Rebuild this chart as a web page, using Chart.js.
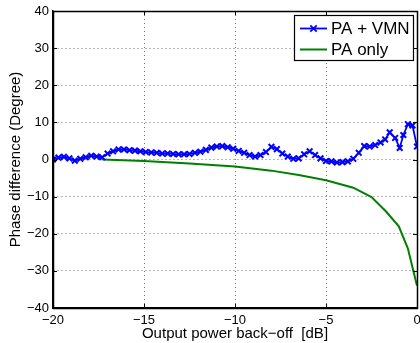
<!DOCTYPE html>
<html><head><meta charset="utf-8">
<script src="https://cdn.jsdelivr.net/npm/chart.js@4"></script>
<style>html,body{margin:0;padding:0;background:#fff}#wrap{width:420px;height:343px}</style>
</head><body><div id="wrap"><canvas id="c" width="420" height="343"></canvas></div>
<script>
const vmnX = [-20.0,-19.7,-19.4,-19.1,-18.8,-18.5,-18.2,-17.9,-17.6,-17.3,-17.0,-16.7,-16.4,-16.1,-15.8,-15.5,-15.2,-14.9,-14.6,-14.3,-14.0,-13.7,-13.4,-13.1,-12.8,-12.5,-12.2,-11.9,-11.6,-11.3,-11.0,-10.7,-10.4,-10.1,-9.8,-9.5,-9.2,-8.9,-8.6,-8.3,-8.0,-7.7,-7.4,-7.1,-6.8,-6.5,-6.2,-5.9,-5.6,-5.3,-5.0,-4.7,-4.4,-4.1,-3.8,-3.5,-3.2,-2.9,-2.6,-2.3,-2.0,-1.75,-1.5,-1.2,-0.95,-0.75,-0.5,-0.25,0.0];
const vmnY = [0.0,0.5,0.7,0.3,-0.3,0.2,0.6,1.0,0.8,0.6,1.6,2.2,2.7,2.7,2.5,2.4,2.2,2.0,1.9,1.8,1.6,1.6,1.5,1.4,1.4,1.5,1.8,2.1,2.6,3.2,3.5,3.6,3.3,2.9,2.3,1.8,1.2,0.8,1.2,2.0,3.4,2.8,1.6,0.8,0.2,0.3,1.4,2.2,1.2,0.3,-0.4,-0.5,-0.8,-0.7,-0.5,0.2,1.8,3.6,3.5,3.9,4.6,5.4,7.3,5.8,3.1,6.6,9.5,9.2,3.5];
const paX = [-17.3,-15,-12.5,-10,-8,-6.5,-5,-3.5,-2.5,-1.7,-1.0,-0.5,0];
const paY = [0,-0.4,-1.1,-1.9,-3.0,-4.2,-5.6,-7.6,-10.1,-14,-18,-24,-34];
const xTicks = [-20,-15,-10,-5,0];
const yTicks = [-40,-30,-20,-10,0,10,20,30,40];
const seriesNames = ['PA + VMN','PA only'];
const xTitle = 'Output power back\u2212off  [dB]';
const yTitle = 'Phase difference (Degree)';

const FONT = '"Liberation Sans", Arial, Helvetica, sans-serif';
const minus = v => String(v).replace('-', '\u2212');

const boxPlugin = {
  id: 'box',
  afterDatasetsDraw(chart) {
    const {ctx, chartArea: a, scales: {x, y}} = chart;
    ctx.save();
    ctx.strokeStyle = '#000';
    ctx.lineWidth = 1;
    ctx.setLineDash([]);
    ctx.beginPath();
    const tl = 4;
    xTicks.forEach(v => {
      const px = Math.round(x.getPixelForValue(v)) + 0.5;
      ctx.moveTo(px, a.bottom); ctx.lineTo(px, a.bottom - tl);
      ctx.moveTo(px, a.top); ctx.lineTo(px, a.top + tl);
    });
    yTicks.forEach(v => {
      const py = Math.round(y.getPixelForValue(v)) + 0.5;
      ctx.moveTo(a.left, py); ctx.lineTo(a.left + tl, py);
      ctx.moveTo(a.right, py); ctx.lineTo(a.right - tl, py);
    });
    ctx.stroke();
    ctx.lineWidth = 1.5;
    ctx.strokeRect(Math.round(a.left) + 0.5, Math.round(a.top) + 0.5, Math.round(a.right - a.left), Math.round(a.bottom - a.top));
    ctx.fillStyle = '#000';
    ctx.font = '13px ' + FONT;
    ctx.textAlign = 'center';
    ctx.textBaseline = 'top';
    xTicks.forEach(v => {
      ctx.fillText(minus(v), x.getPixelForValue(v), a.bottom + 6);
    });
    const bw = 119, bh = 45;
    const bx = a.right - 4 - bw, by = a.top + 4;
    ctx.fillStyle = '#fff';
    ctx.fillRect(bx, by, bw, bh);
    ctx.strokeStyle = '#000';
    ctx.lineWidth = 1.2;
    ctx.strokeRect(bx + 0.5, by + 0.5, bw, bh);
    const ds = chart.data.datasets;
    const rows = [by + 13.5, by + 34.5];
    ds.forEach((d, i) => {
      const ry = rows[i];
      ctx.strokeStyle = d.borderColor;
      ctx.lineWidth = d.borderWidth;
      ctx.beginPath();
      ctx.moveTo(bx + 6, ry); ctx.lineTo(bx + 33, ry);
      ctx.stroke();
      if (d.pointRadius > 0) {
        const cx = bx + 19.5, r = 3.2;
        ctx.lineWidth = 1.8;
        ctx.beginPath();
        ctx.moveTo(cx - r, ry - r); ctx.lineTo(cx + r, ry + r);
        ctx.moveTo(cx - r, ry + r); ctx.lineTo(cx + r, ry - r);
        ctx.stroke();
      }
      ctx.fillStyle = '#000';
      ctx.font = '17px ' + FONT;
      ctx.textBaseline = 'middle';
      ctx.textAlign = 'left';
      ctx.fillText(d.label, bx + 37, ry + 1);
    });
    ctx.restore();
  }
};

new Chart(document.getElementById('c'), {
  type: 'line',
  data: {
    datasets: [
      {
        label: seriesNames[0],
        data: vmnX.map((v, i) => ({x: v, y: vmnY[i]})),
        borderColor: '#0000ff',
        backgroundColor: '#0000ff',
        borderWidth: 1.8,
        pointStyle: 'crossRot',
        pointRadius: 4,
        pointBorderWidth: 2,
        pointBorderColor: '#0000ff',
        tension: 0,
        fill: false
      },
      {
        label: seriesNames[1],
        data: paX.map((v, i) => ({x: v, y: paY[i]})),
        borderColor: '#008000',
        backgroundColor: '#008000',
        borderWidth: 2,
        pointRadius: 0,
        tension: 0,
        fill: false
      }
    ]
  },
  options: {
    responsive: false,
    animation: false,
    devicePixelRatio: 1,
    layout: {autoPadding: false, padding: {top: 11, right: 3, left: 0, bottom: 0}},
    plugins: {legend: {display: false}, tooltip: {enabled: false}},
    scales: {
      x: {
        type: 'linear', min: -20, max: 0,
        afterBuildTicks: s => { s.ticks = xTicks.map(v => ({value: v})); },
        afterFit: s => { s.height = 35; s.paddingLeft = 0; s.paddingRight = 0; },
        grid: {color: 'rgba(0,0,0,0.55)', lineWidth: 1, drawTicks: false},
        border: {display: true, color: '#000', width: 1.5, dash: [1, 3]},
        ticks: {display: false},
        title: {display: true, text: xTitle, color: '#000', font: {family: FONT, size: 15}, padding: {top: 0, bottom: 0}}
      },
      y: {
        type: 'linear', min: -40, max: 40,
        afterBuildTicks: s => { s.ticks = yTicks.map(v => ({value: v})); },
        afterFit: s => { s.width = 53; s.paddingTop = 0; s.paddingBottom = 0; },
        grid: {color: 'rgba(0,0,0,0.55)', lineWidth: 1, drawTicks: false},
        border: {display: true, color: '#000', width: 1.5, dash: [1, 3]},
        ticks: {padding: 4, color: '#000', font: {family: FONT, size: 13}, callback: v => minus(v)},
        title: {display: true, text: yTitle, color: '#000', font: {family: FONT, size: 15}, padding: {top: 7, bottom: 0}}
      }
    }
  },
  plugins: [boxPlugin]
});
</script></body></html>
